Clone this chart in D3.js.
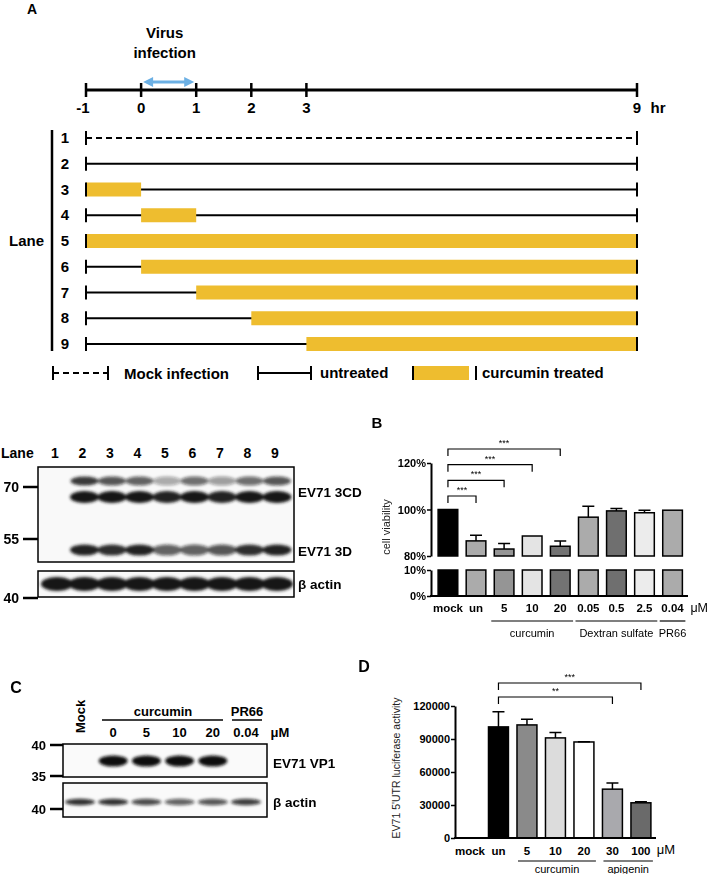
<!DOCTYPE html>
<html><head><meta charset="utf-8">
<script src="https://cdn.jsdelivr.net/npm/d3@7/dist/d3.min.js"></script>
<style>body{margin:0;background:#fff}svg{display:block}text{font-family:"Liberation Sans",Arial,sans-serif}</style>
</head><body><svg id="fig" width="709" height="874"></svg>
<script>
// ---------------- Panel A: time course ----------------
const timeTicks = [-1, 0, 1, 2, 3, 9];
const timeUnit = "hr";
const infectionWindow = [0, 1];
const infectionLabel = ["Virus", "infection"];
const laneIds = [1, 2, 3, 4, 5, 6, 7, 8, 9];
const laneMock = [true, false, false, false, false, false, false, false, false];
const treatFrom = [null, null, -1, 0, -1, 0, 1, 2, 3];
const treatTo = [null, null, 0, 1, 9, 9, 9, 9, 9];
const legendLabels = ["Mock infection", "untreated", "curcumin treated"];

// ---------------- Panel A: western blot ----------------
const wbLanes = ["1", "2", "3", "4", "5", "6", "7", "8", "9"];
const wb3CDupper = [0, 0.85, 0.7, 0.65, 0.35, 0.6, 0.4, 0.6, 0.7];
const wb3CDlower = [0, 1, 1, 1, 0.95, 1, 0.95, 1, 1];
const wb3D = [0, 0.95, 0.9, 0.95, 0.65, 0.65, 0.7, 0.9, 0.95];
const wbActin = [1, 1, 1, 1, 1, 1, 1, 1, 1];
const wbMarkers = ["70", "55", "40"];
const wbProteins = ["EV71 3CD", "EV71 3D", "β actin"];

// ---------------- Panel B: cell viability ----------------
const bCats = ["mock", "un", "5", "10", "20", "0.05", "0.5", "2.5", "0.04"];
const bValues = [100, 86.5, 83.0, 88.6, 84.2, 96.7, 99.4, 98.6, 99.7];
const bErr = [0, 2.4, 2.4, 0, 2.2, 4.7, 1.0, 1.1, 0];
const bColors = ["#000000", "#ababab", "#959595", "#e4e4e4", "#737373", "#ababab", "#6f6f6f", "#ececec", "#ababab"];
const bUpperTicks = [80, 100, 120];
const bLowerTicks = [0, 10];
const bGroupNames = ["curcumin", "Dextran sulfate", "PR66"];
const bGroupFrom = ["5", "0.05", "0.04"];
const bGroupTo = ["20", "2.5", "0.04"];
const bSigTo = ["un", "5", "10", "20"];
const bSigLabel = ["***", "***", "***", "***"];

// ---------------- Panel C: VP1 blot ----------------
const cLanes = ["Mock", "0", "5", "10", "20", "0.04"];
const cVP1 = [0, 1, 1, 1, 1, 0];
const cActin = [0.85, 0.85, 0.75, 0.65, 0.7, 0.8];
const cMarkers = ["40", "35", "40"];

// ---------------- Panel D: luciferase ----------------
const dCats = ["mock", "un", "5", "10", "20", "30", "100"];
const dValues = [0, 101000, 102800, 91000, 87300, 44400, 32000];
const dErr = [0, 13800, 5200, 4800, 300, 5500, 900];
const dColors = ["#ffffff", "#000000", "#8a8a8a", "#dcdcdc", "#ffffff", "#a9a9ad", "#6a6a6a"];
const dTicks = [0, 30000, 60000, 90000, 120000];
const dGroupNames = ["curcumin", "apigenin"];
const dGroupFrom = ["5", "30"];
const dGroupTo = ["20", "100"];
const dSigTo = ["30", "100"];
const dSigLabel = ["**", "***"];

const YELLOW = "#eebd2f";
const svg = d3.select("#fig");
const F = '"Liberation Sans", Arial, sans-serif';
function txt(g, x, y, s, opt = {}) {
  return g.append("text").attr("x", x).attr("y", y).text(s)
    .attr("font-size", opt.size || 14).attr("font-weight", opt.weight || "bold")
    .attr("text-anchor", opt.anchor || "start").attr("fill", opt.fill || "#000");
}
const defs = svg.append("defs");
defs.append("filter").attr("id", "blur").attr("x", "-30%").attr("y", "-60%").attr("width", "160%").attr("height", "220%")
  .append("feGaussianBlur").attr("stdDeviation", 1.6);

// ======== Panel A ========
const A = svg.append("g");
txt(A, 32, 14, "A", {size: 14, anchor: "middle"});
const t = d3.scaleLinear().domain([-1, 9]).range([86, 637]);
const tlY = 90;
A.append("line").attr("x1", t(-1)).attr("x2", t(9)).attr("y1", tlY).attr("y2", tlY).attr("stroke", "#000").attr("stroke-width", 3);
A.selectAll(".tt").data(timeTicks).join("line").attr("x1", d => t(d)).attr("x2", d => t(d))
  .attr("y1", tlY - 7).attr("y2", tlY + 7).attr("stroke", "#000").attr("stroke-width", 2.5);
A.selectAll(".tl").data(timeTicks).join("text").attr("x", d => t(d) - (d < 0 ? 3 : 0)).attr("y", tlY + 23)
  .attr("text-anchor", "middle").attr("font-size", 15).attr("font-weight", "bold").text(d => d);
txt(A, t(9) + 21, tlY + 23, timeUnit, {size: 15, anchor: "middle"});
// infection arrow
const ax0 = t(infectionWindow[0]) + 2, ax1 = t(infectionWindow[1]) - 2, ay = 82;
A.append("line").attr("x1", ax0 + 6).attr("x2", ax1 - 6).attr("y1", ay).attr("y2", ay).attr("stroke", "#6cb0e4").attr("stroke-width", 3);
A.append("path").attr("d", `M${ax0},${ay} l10,-5 l0,10 Z M${ax1},${ay} l-10,-5 l0,10 Z`).attr("fill", "#6cb0e4");
const midInf = (t(infectionWindow[0]) + t(infectionWindow[1])) / 2 - 4;
txt(A, midInf, 38, infectionLabel[0], {size: 15, anchor: "middle"});
txt(A, midInf, 58, infectionLabel[1], {size: 15, anchor: "middle"});

// lanes
const yLane = d3.scalePoint().domain(laneIds).range([138, 344]);
const laneG = A.selectAll(".lane").data(laneIds).join("g");
laneG.append("line").attr("x1", t(-1)).attr("x2", t(9)).attr("y1", d => yLane(d)).attr("y2", d => yLane(d))
  .attr("stroke", "#000").attr("stroke-width", 2).attr("stroke-dasharray", (d, i) => laneMock[i] ? "6,4" : null);
laneG.filter((d, i) => treatFrom[i] !== null).append("rect")
  .attr("x", d => t(treatFrom[d - 1])).attr("width", d => t(treatTo[d - 1]) - t(treatFrom[d - 1]))
  .attr("y", d => yLane(d) - 7).attr("height", 14).attr("fill", YELLOW);
laneG.append("line").attr("x1", t(-1)).attr("x2", t(-1)).attr("y1", d => yLane(d) - 7).attr("y2", d => yLane(d) + 7).attr("stroke", "#000").attr("stroke-width", 2);
laneG.append("line").attr("x1", t(9)).attr("x2", t(9)).attr("y1", d => yLane(d) - 7).attr("y2", d => yLane(d) + 7).attr("stroke", "#000").attr("stroke-width", 2);
laneG.append("text").attr("x", 65).attr("y", d => yLane(d) + 5).attr("text-anchor", "middle")
  .attr("font-size", 15).attr("font-weight", "bold").text(d => d);
A.append("line").attr("x1", 52).attr("x2", 52).attr("y1", 130).attr("y2", 351).attr("stroke", "#000").attr("stroke-width", 2.5);
txt(A, 44, (yLane(1) + yLane(9)) / 2 + 5, "Lane", {size: 15, anchor: "end"});

// legend
const lgY = 373;
function seg(g, x0, x1, y, dash) {
  g.append("line").attr("x1", x0).attr("x2", x1).attr("y1", y).attr("y2", y).attr("stroke", "#000").attr("stroke-width", 2).attr("stroke-dasharray", dash);
  [x0, x1].forEach(x => g.append("line").attr("x1", x).attr("x2", x).attr("y1", y - 7).attr("y2", y + 7).attr("stroke", "#000").attr("stroke-width", 2));
}
seg(A, 53, 108, lgY, "6,4");
txt(A, 124, lgY + 6, legendLabels[0], {size: 15});
seg(A, 258, 311, lgY, null);
txt(A, 320, lgY + 5, legendLabels[1], {size: 15});
A.append("rect").attr("x", 413).attr("y", lgY - 7).attr("width", 56).attr("height", 14).attr("fill", YELLOW);
[413, 476].forEach(x => A.append("line").attr("x1", x).attr("x2", x).attr("y1", lgY - 7).attr("y2", lgY + 7).attr("stroke", "#000").attr("stroke-width", 2));
txt(A, 482, lgY + 5, legendLabels[2], {size: 15});

// ======== Western blot (A lower) ========
const W = svg.append("g");
const xWB = d3.scalePoint().domain(wbLanes).range([57, 277]);
txt(W, 1, 458, "Lane", {size: 14});
W.selectAll(".wl").data(wbLanes).join("text").attr("x", d => xWB(d) - 2).attr("y", 458).attr("text-anchor", "middle")
  .attr("font-size", 14).attr("font-weight", "bold").text(d => d);
W.append("rect").attr("x", 38).attr("y", 467).attr("width", 256).attr("height", 95).attr("fill", "#f9f9f9").attr("stroke", "#000").attr("stroke-width", 1.5);
W.append("rect").attr("x", 38).attr("y", 571).attr("width", 256).attr("height", 26).attr("fill", "#f9f9f9").attr("stroke", "#000").attr("stroke-width", 1.5);
const bandG = W.append("g").attr("filter", "url(#blur)");
function bands(arr, y, rx, ry) {
  bandG.selectAll(null).data(wbLanes).join("ellipse").attr("cx", d => xWB(d)).attr("cy", y)
    .attr("rx", rx).attr("ry", ry).attr("fill", "#151515").attr("opacity", (d, i) => arr[i]);
}
bands(wb3CDupper, 481, 14, 4.5);
bands(wb3CDlower, 497, 14.5, 6);
bands(wb3D, 550, 14.5, 5.5);
bands(wbActin, 584, 16, 7);
const wbMarkY = d3.scaleOrdinal().domain(wbMarkers).range([487, 539, 598]);
wbMarkers.forEach(m => {
  W.append("line").attr("x1", 23).attr("x2", 38).attr("y1", wbMarkY(m)).attr("y2", wbMarkY(m)).attr("stroke", "#000").attr("stroke-width", 2.5);
  txt(W, 19, wbMarkY(m) + 5, m, {size: 14, anchor: "end"});
});
const wbProtY = d3.scaleOrdinal().domain(wbProteins).range([497, 556, 589]);
wbProteins.forEach(p => txt(W, 298, wbProtY(p), p, {size: 13.5}));

// ======== Panel B ========
const B = svg.append("g");
txt(B, 377, 428, "B", {size: 15, anchor: "middle"});
const xB = d3.scaleBand().domain(bCats).range([432.5, 688]).paddingInner(0.3).paddingOuter(0.2);
const yU = d3.scaleLinear().domain([80, 120]).range([556, 463]);
const yL = d3.scaleLinear().domain([0, 10]).range([596, 570]);
function styleAxis(g, size) {
  g.select(".domain").attr("stroke", "#000").attr("stroke-width", 2);
  g.selectAll(".tick line").attr("stroke", "#000").attr("stroke-width", 1.5);
  g.selectAll(".tick text").attr("font-family", F).attr("font-size", size).attr("font-weight", "bold").attr("fill", "#000");
}
B.append("g").attr("transform", "translate(431,0)")
  .call(d3.axisLeft(yU).tickValues(bUpperTicks).tickFormat(d => d + "%").tickSize(4).tickPadding(1).tickSizeOuter(0))
  .call(g => styleAxis(g, 11));
B.append("g").attr("transform", "translate(431,0)")
  .call(d3.axisLeft(yL).tickValues(bLowerTicks).tickFormat(d => d + "%").tickSize(4).tickPadding(1).tickSizeOuter(0))
  .call(g => styleAxis(g, 11));
// bars (broken axis: upper and lower segments)
B.selectAll(".bu").data(bCats).join("rect").attr("x", d => xB(d)).attr("width", xB.bandwidth())
  .attr("y", (d, i) => yU(bValues[i])).attr("height", (d, i) => yU(80) - yU(bValues[i]))
  .attr("fill", (d, i) => bColors[i]).attr("stroke", "#000").attr("stroke-width", 1.5);
B.selectAll(".bl").data(bCats).join("rect").attr("x", d => xB(d)).attr("width", xB.bandwidth())
  .attr("y", yL(10)).attr("height", yL(0) - yL(10))
  .attr("fill", (d, i) => bColors[i]).attr("stroke", "#000").attr("stroke-width", 1.5);
// error bars
B.selectAll(".be").data(bCats.filter((d, i) => bErr[i] > 0)).join("path")
  .attr("d", d => { const i = bCats.indexOf(d), cx = xB(d) + xB.bandwidth() / 2;
    return `M${cx},${yU(bValues[i])}V${yU(bValues[i] + bErr[i])}M${cx - 6},${yU(bValues[i] + bErr[i])}H${cx + 6}`; })
  .attr("stroke", "#000").attr("stroke-width", 1.5).attr("fill", "none");
B.append("line").attr("x1", 430).attr("x2", 688).attr("y1", 596).attr("y2", 596).attr("stroke", "#000").attr("stroke-width", 2);
B.selectAll(".bx").data(bCats).join("text").attr("x", d => xB(d) + xB.bandwidth() / 2).attr("y", 612)
  .attr("text-anchor", "middle").attr("font-size", 11.5).attr("font-weight", "bold").text(d => d);
txt(B, 708, 612, "μM", {size: 12.5, weight: "normal", anchor: "end"});
bGroupNames.forEach((n, i) => {
  const x0 = xB(bGroupFrom[i]) - 3, x1 = xB(bGroupTo[i]) + xB.bandwidth() + 3;
  B.append("line").attr("x1", x0).attr("x2", x1).attr("y1", 621).attr("y2", 621).attr("stroke", "#000").attr("stroke-width", 1.2);
  txt(B, (x0 + x1) / 2, 637, n, {size: 11, weight: "normal", anchor: "middle"});
});
B.append("text").attr("transform", "translate(390,527) rotate(-90)").attr("text-anchor", "middle")
  .attr("font-size", 11).attr("fill", "#222").text("cell viability");
// significance brackets
const bSigY = d3.scalePoint().domain(bSigTo).range([496, 449]);
bSigTo.forEach((c, i) => {
  const x0 = xB("mock") + xB.bandwidth() / 2, x1 = xB(c) + xB.bandwidth() / 2, y = bSigY(c);
  B.append("path").attr("d", `M${x0},${y + 7}V${y}H${x1}V${y + 7}`).attr("fill", "none").attr("stroke", "#000").attr("stroke-width", 1.2);
  txt(B, (x0 + x1) / 2, y - 3, bSigLabel[i], {size: 9, weight: "normal", anchor: "middle"});
});

// ======== Panel C ========
const C = svg.append("g");
txt(C, 16, 693, "C", {size: 16, anchor: "middle"});
const xC = d3.scalePoint().domain(cLanes).range([80, 246]);
C.append("text").attr("transform", `translate(${xC("Mock") + 5},733) rotate(-90)`).attr("font-size", 13).attr("font-weight", "bold").text(cLanes[0]);
cLanes.slice(1).forEach(l => txt(C, xC(l), 737, l, {size: 13, anchor: "middle"}));
txt(C, 280, 737, "μM", {size: 13, anchor: "middle"});
txt(C, (xC("0") + xC("20")) / 2, 716, "curcumin", {size: 13, anchor: "middle"});
C.append("line").attr("x1", 102).attr("x2", 223).attr("y1", 720).attr("y2", 720).attr("stroke", "#000").attr("stroke-width", 1.5);
txt(C, xC("0.04") + 1, 716, "PR66", {size: 13, anchor: "middle"});
C.append("line").attr("x1", 232).attr("x2", 262).attr("y1", 720).attr("y2", 720).attr("stroke", "#000").attr("stroke-width", 1.5);
C.append("rect").attr("x", 63).attr("y", 744).attr("width", 204).attr("height", 33).attr("fill", "#fafafa").attr("stroke", "#000").attr("stroke-width", 1.5);
C.append("rect").attr("x", 63).attr("y", 783).attr("width", 204).attr("height", 34).attr("fill", "#fafafa").attr("stroke", "#000").attr("stroke-width", 1.5);
const cBand = C.append("g").attr("filter", "url(#blur)");
cBand.selectAll(null).data(cLanes).join("ellipse").attr("cx", d => xC(d)).attr("cy", 761).attr("rx", 14.5).attr("ry", 5.5)
  .attr("fill", "#111").attr("opacity", (d, i) => cVP1[i]);
cBand.selectAll(null).data(cLanes).join("ellipse").attr("cx", d => xC(d)).attr("cy", 802).attr("rx", 15).attr("ry", 3.2)
  .attr("fill", "#111").attr("opacity", (d, i) => cActin[i]);
const cMarkY = d3.scaleOrdinal().domain([0, 1, 2]).range([745, 776, 809]);
cMarkers.forEach((m, i) => {
  C.append("line").attr("x1", 50).attr("x2", 63).attr("y1", cMarkY(i)).attr("y2", cMarkY(i)).attr("stroke", "#000").attr("stroke-width", 2.5);
  txt(C, 46, cMarkY(i) + 5, m, {size: 13, anchor: "end"});
});
txt(C, 273, 768, "EV71 VP1", {size: 13.5});
txt(C, 273, 807, "β actin", {size: 13.5});

// ======== Panel D ========
const D = svg.append("g");
txt(D, 364, 672, "D", {size: 16, anchor: "middle"});
const xD = d3.scaleBand().domain(dCats).range([454.3, 656.6]).paddingInner(0.3).paddingOuter(0.2);
const yD = d3.scaleLinear().domain([0, 120000]).range([838, 706]);
D.append("g").attr("transform", "translate(455,0)")
  .call(d3.axisLeft(yD).tickValues(dTicks).tickFormat(d3.format("d")).tickSize(4).tickPadding(1).tickSizeOuter(0))
  .call(g => styleAxis(g, 11));
D.selectAll(".db").data(dCats.filter((d, i) => dValues[i] > 0)).join("rect")
  .attr("x", d => xD(d)).attr("width", xD.bandwidth())
  .attr("y", d => yD(dValues[dCats.indexOf(d)])).attr("height", d => yD(0) - yD(dValues[dCats.indexOf(d)]))
  .attr("fill", d => dColors[dCats.indexOf(d)]).attr("stroke", "#000").attr("stroke-width", 1.5);
D.selectAll(".de").data(dCats.filter((d, i) => dErr[i] > 0)).join("path")
  .attr("d", d => { const i = dCats.indexOf(d), cx = xD(d) + xD.bandwidth() / 2;
    return `M${cx},${yD(dValues[i])}V${yD(dValues[i] + dErr[i])}M${cx - 6},${yD(dValues[i] + dErr[i])}H${cx + 6}`; })
  .attr("stroke", "#000").attr("stroke-width", 1.5).attr("fill", "none");
D.append("line").attr("x1", 454).attr("x2", 656).attr("y1", 838).attr("y2", 838).attr("stroke", "#000").attr("stroke-width", 2);
D.selectAll(".dx").data(dCats).join("text").attr("x", d => xD(d) + xD.bandwidth() / 2).attr("y", 855)
  .attr("text-anchor", "middle").attr("font-size", 11.5).attr("font-weight", "bold").text(d => d);
txt(D, 666, 854, "μM", {size: 13, weight: "normal", anchor: "middle"});
dGroupNames.forEach((n, i) => {
  const x0 = xD(dGroupFrom[i]) + 1, x1 = xD(dGroupTo[i]) + xD.bandwidth() + 2;
  D.append("line").attr("x1", x0).attr("x2", x1).attr("y1", 861).attr("y2", 861).attr("stroke", "#000").attr("stroke-width", 1.2);
  txt(D, (x0 + x1) / 2, 873, n, {size: 11, weight: "normal", anchor: "middle"});
});
D.append("text").attr("transform", "translate(400,768) rotate(-90)").attr("text-anchor", "middle")
  .attr("font-size", 10.5).attr("fill", "#222").text("EV71 5'UTR luciferase activity");
const dSigY = d3.scalePoint().domain(dSigTo).range([697, 683]);
dSigTo.forEach((c, i) => {
  const x0 = xD("un") + xD.bandwidth() / 2, x1 = xD(c) + xD.bandwidth() / 2, y = dSigY(c);
  D.append("path").attr("d", `M${x0},${y + 7}V${y}H${x1}V${y + 7}`).attr("fill", "none").attr("stroke", "#000").attr("stroke-width", 1.2);
  txt(D, (x0 + x1) / 2, y - 3, dSigLabel[i], {size: 9, weight: "normal", anchor: "middle"});
});
</script></body></html>
